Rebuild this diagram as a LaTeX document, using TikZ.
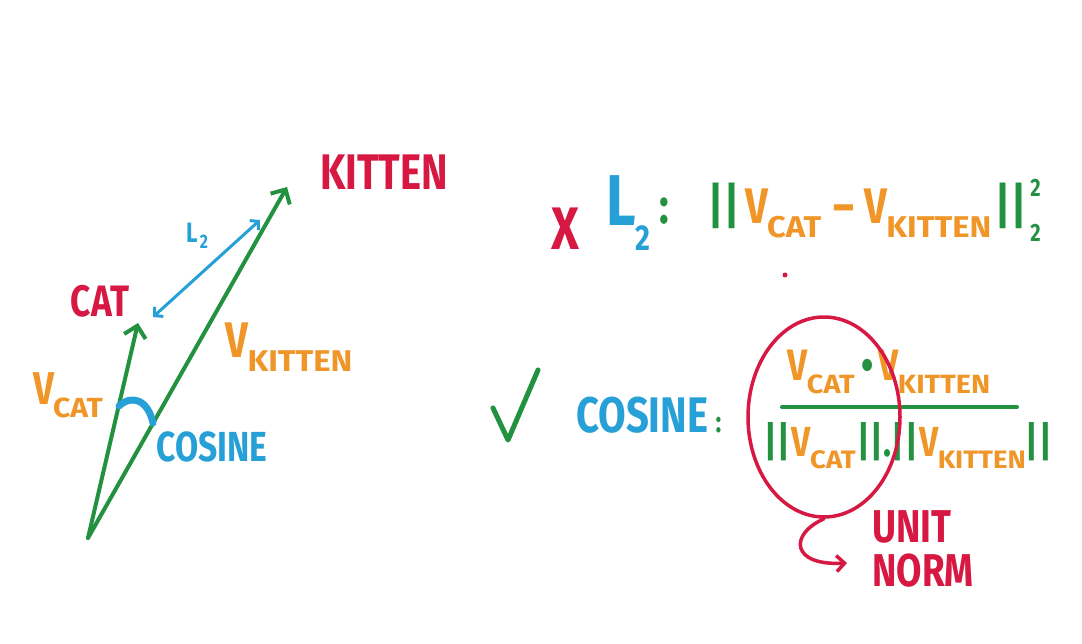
\documentclass[tikz,border=0pt]{standalone}
\usepackage{fontspec}
\setmainfont{Fira Sans}[FakeStretch=0.8]
\usetikzlibrary{arrows.meta,shapes.geometric}
\definecolor{crimson}{RGB}{214,24,66}
\definecolor{amber}{RGB}{240,150,40}
\definecolor{leaf}{RGB}{34,146,64}
\definecolor{sky}{RGB}{38,160,214}
\newcommand{\vsub}[1]{V\kern-0.02em\raisebox{-0.28em}{\scalebox{0.82}[0.6]{#1}}}
\newcommand{\bars}{\textcolor{leaf}{|\kern0.02em|}}

\begin{document}
\begin{tikzpicture}[x=1pt, y=-1pt, line cap=round, line join=round,
    >={Straight Barb[length=11pt,width=22pt]},
    word/.style={inner sep=0pt, font=\bfseries\fontsize{#1}{#1}\selectfont},
    vec/.style={draw=leaf, line width=4pt, ->}]
  \fill[white] (0,0) rectangle (1082,644);
  \useasboundingbox (0,0) rectangle (1082,644);

  % vectors
  \coordinate (orig) at (88,538);
  \coordinate (cattip) at (138,323);
  \coordinate (kittip) at (287,187);
  \draw[vec] (orig) -- (cattip);
  \draw[vec] (orig) -- (kittip);

  \node[word=44, text=crimson] (cat) at (100,301) {CAT};
  \node[word=50, text=crimson] (kitten) at (384,172) {KITTEN};
  \node[word=46, text=amber] (vcat) at (68,395) {\vsub{CAT}};
  \node[word=50, text=amber] (vkitten) at (289,347) {\vsub{KITTEN}};

  % distance and angle
  \coordinate (l2a) at (153,317);
  \coordinate (l2b) at (260,220);
  \draw[<->, sky, line width=3pt, >={Straight Barb[length=6pt,width=13pt]}] (l2a) -- (l2b);
  \node[word=28, text=sky] (l2) at (197,236) {L\kern0.08em\raisebox{-0.2em}{\scalebox{0.7}{2}}};
  \draw[sky, line width=7pt] (119,406) .. controls (132,394) and (148,400) .. (153,423);
  \node[word=42, text=sky] (cosl) at (212,447) {COSINE};

  % L2 distance
  \node[word=60, text=crimson] (cross) at (565,229) {X};
  \node[word=72, text=sky, anchor=west] (l2name) at (606,213)
    {L\raisebox{-0.35em}{\scalebox{0.5}{2}}\kern0.12em\textcolor{leaf}{\raisebox{0.03em}{\scalebox{0.7}{:}}}};
  \node[word=50, text=amber, anchor=west] (dist) at (708,210)
    {\bars\kern0.12em\vsub{CAT}\kern0.25em–\kern0.2em\vsub{KITTEN}\kern0.08em\bars\kern0.08em\textcolor{leaf}{\rlap{\raisebox{0.55em}{\scalebox{0.5}{2}}}\raisebox{-0.35em}{\scalebox{0.5}{2}}}};
  \fill[crimson] (785,275) circle (2.5);

  % cosine similarity
  \draw[leaf, line width=5pt] (493,408) -- (508,440) -- (538,370);
  \node[word=50, text=sky, anchor=west] (cosr) at (576,415) {COSINE\kern0.15em\textcolor{leaf}{\scalebox{0.6}{:}}};
  \node[word=44, text=amber] (num) at (889,372) {\vsub{CAT}\kern0.15em\textcolor{leaf}{•}\kern0.12em\vsub{KITTEN}};
  \coordinate (barl) at (782,407);
  \coordinate (barr) at (1017,407);
  \draw[leaf, line width=4pt] (barl) -- (barr);
  \node[word=42, text=amber] (den) at (908,446)
    {\bars\kern0.04em\vsub{CAT}\kern0.04em\bars\textcolor{leaf}{.}\bars\kern0.04em\vsub{KITTEN}\bars};

  % unit norm
  \node[draw=crimson, line width=3.5pt, ellipse, minimum width=152pt, minimum height=200pt] (ring) at (824,417) {};
  \node[text=crimson, align=left, anchor=west, inner sep=0pt, font=\bfseries\fontsize{46}{44}\selectfont] (note) at (872,549) {UNIT\\NORM};
  \coordinate (bend) at (847,563);
  \draw[->, crimson, line width=3.5pt, >={Straight Barb[length=8pt,width=16pt]}] (ring.south) .. controls (788,535) and (792,566) .. (bend);
\end{tikzpicture}
\end{document}
